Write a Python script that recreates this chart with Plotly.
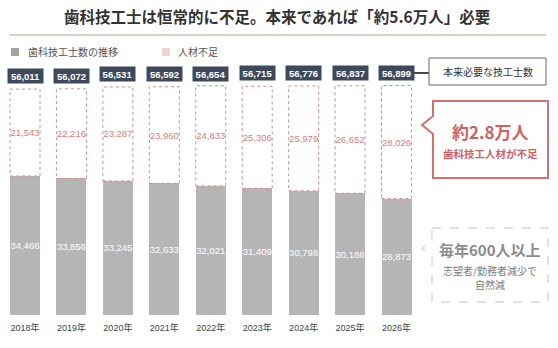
import plotly.graph_objects as go

years = ["2018年", "2019年", "2020年", "2021年", "2022年", "2023年", "2024年", "2025年", "2026年"]
required = [56011, 56072, 56531, 56592, 56654, 56715, 56776, 56837, 56899]
technicians = [34468, 33856, 33245, 32633, 32021, 31409, 30798, 30186, 28873]
shortage = [21543, 22216, 23287, 23960, 24833, 25306, 25979, 26652, 28026]

W, H = 558, 348
PLOT_B = 315  # pixel y of plot bottom


def px(x):
    return x / W


def py(y):
    return (PLOT_B - y) / PLOT_B


JP = "Noto Sans CJK JP"
NUM = "Liberation Sans, Arial, Noto Sans CJK JP"

xs = list(range(len(years)))
bw = 0.646

fig = go.Figure()
fig.add_trace(go.Bar(
    x=xs, y=technicians, width=bw, marker=dict(color="#b5b5b5", line=dict(width=0)),
    text=[f"{v:,}" for v in technicians], textposition="inside", insidetextanchor="middle",
    textangle=0, textfont=dict(color="white", size=9.5, family=NUM), constraintext="none",
    name="歯科技工士数の推移", showlegend=False, hoverinfo="skip",
))
fig.add_trace(go.Bar(
    x=xs, y=shortage, base=technicians, width=bw, marker=dict(color="white", line=dict(width=0)),
    text=[f"{v:,}" for v in shortage], textposition="inside", insidetextanchor="middle",
    textangle=0, textfont=dict(color="#d9807c", size=9.5, family=NUM), constraintext="none",
    name="人材不足", showlegend=False, hoverinfo="skip",
))

shapes = []
for i, (t, s) in enumerate(zip(technicians, shortage)):
    shapes.append(dict(type="rect", xref="x", yref="y", x0=i - bw / 2, x1=i + bw / 2,
                       y0=t, y1=t + s, line=dict(color="#d98a88", width=1, dash="dot"),
                       fillcolor="rgba(0,0,0,0)", layer="above"))

annotations = []
for i, r in enumerate(required):
    annotations.append(dict(x=i, y=r, xref="x", yref="y", yshift=13, showarrow=False,
                            text=f"<b>{r:,}</b>", font=dict(color="white", size=9.5, family=NUM),
                            bgcolor="#3e4a5b", width=33, height=12, borderpad=1))

# title
annotations.append(dict(x=px(277), y=py(16), xref="paper", yref="paper", showarrow=False,
                        text="<b>歯科技工士は恒常的に不足。本来であれば「約5.6万人」必要</b>",
                        font=dict(size=15.5, color="#333333", family=JP),
                        xanchor="center", yanchor="middle"))
shapes.append(dict(type="line", xref="paper", yref="paper", x0=px(10), x1=px(546),
                   y0=py(35), y1=py(35), line=dict(color="#cbbcbc", width=1.5)))

# legend
shapes.append(dict(type="rect", xref="paper", yref="paper", x0=px(11), x1=px(19),
                   y0=py(48), y1=py(56), fillcolor="#a3a3a3", line=dict(width=0)))
annotations.append(dict(x=px(26), y=py(52), xref="paper", yref="paper", showarrow=False,
                        text="歯科技工士数の推移", xanchor="left", yanchor="middle",
                        font=dict(size=10, color="#555555", family=JP)))
shapes.append(dict(type="rect", xref="paper", yref="paper", x0=px(162), x1=px(170),
                   y0=py(48), y1=py(56), fillcolor="#f2d2d2", line=dict(width=0)))
annotations.append(dict(x=px(176), y=py(52), xref="paper", yref="paper", showarrow=False,
                        text="人材不足", xanchor="left", yanchor="middle",
                        font=dict(size=10, color="#555555", family=JP)))

# connector + required box
shapes.append(dict(type="line", xref="paper", yref="paper", x0=px(412), x1=px(429),
                   y0=py(73), y1=py(73), line=dict(color="#3e4a5b", width=2)))
shapes.append(dict(type="rect", xref="paper", yref="paper", x0=px(429), x1=px(546),
                   y0=py(58), y1=py(85), fillcolor="white", line=dict(color="#6b6b6b", width=1)))
annotations.append(dict(x=px(487.5), y=py(72), xref="paper", yref="paper", showarrow=False,
                        text="本来必要な技工士数", xanchor="center", yanchor="middle",
                        font=dict(size=10, color="#333333", family=JP)))


def path(pts):
    return "M " + " L ".join(f"{px(x):.5f},{py(y):.5f}" for x, y in pts) + " Z"


# red callout
shapes.append(dict(type="path", xref="paper", yref="paper",
                   path=path([(433, 101), (548, 101), (548, 178), (433, 178), (433, 134),
                              (422, 125), (433, 116)]),
                   fillcolor="white", line=dict(color="#d4716d", width=2)))
annotations.append(dict(x=px(490), y=py(131), xref="paper", yref="paper", showarrow=False,
                        text="<b>約2.8万人</b>", xanchor="center", yanchor="middle",
                        font=dict(size=17, color="#cf625e", family=JP)))
annotations.append(dict(x=px(490), y=py(153), xref="paper", yref="paper", showarrow=False,
                        text="<b>歯科技工人材が不足</b>", xanchor="center", yanchor="middle",
                        font=dict(size=10.5, color="#cf625e", family=JP)))

# gray callout
shapes.append(dict(type="path", xref="paper", yref="paper",
                   path=path([(432, 228), (548, 228), (548, 302), (432, 302), (432, 257),
                              (422, 248), (432, 240)]),
                   fillcolor="white", line=dict(color="#c4c4c4", width=1, dash="dash")))
annotations.append(dict(x=px(490), y=py(249), xref="paper", yref="paper", showarrow=False,
                        text="<b>毎年600人以上</b>", xanchor="center", yanchor="middle",
                        font=dict(size=15, color="#8c8c8c", family=JP)))
annotations.append(dict(x=px(490), y=py(270), xref="paper", yref="paper", showarrow=False,
                        text="志望者/勤務者減少で", xanchor="center", yanchor="middle",
                        font=dict(size=10, color="#7a7a7a", family=JP)))
annotations.append(dict(x=px(490), y=py(284), xref="paper", yref="paper", showarrow=False,
                        text="自然減", xanchor="center", yanchor="middle",
                        font=dict(size=10, color="#7a7a7a", family=JP)))

x0 = -25 / 46.44
x1 = (W - 25) / 46.44
fig.update_layout(
    width=W, height=H, margin=dict(l=0, r=0, t=0, b=H - PLOT_B),
    plot_bgcolor="white", paper_bgcolor="white", barmode="stack",
    showlegend=False, shapes=shapes, annotations=annotations,
    xaxis=dict(range=[x0, x1], tickvals=xs, ticktext=years, showgrid=False, zeroline=False,
               showline=False, ticks="", ticklabelstandoff=6,
               tickfont=dict(size=9, color="#444444", family=NUM), fixedrange=True),
    yaxis=dict(range=[0, 78100], visible=False, showgrid=False, zeroline=False, fixedrange=True),
)
fig.write_html("out.html")
